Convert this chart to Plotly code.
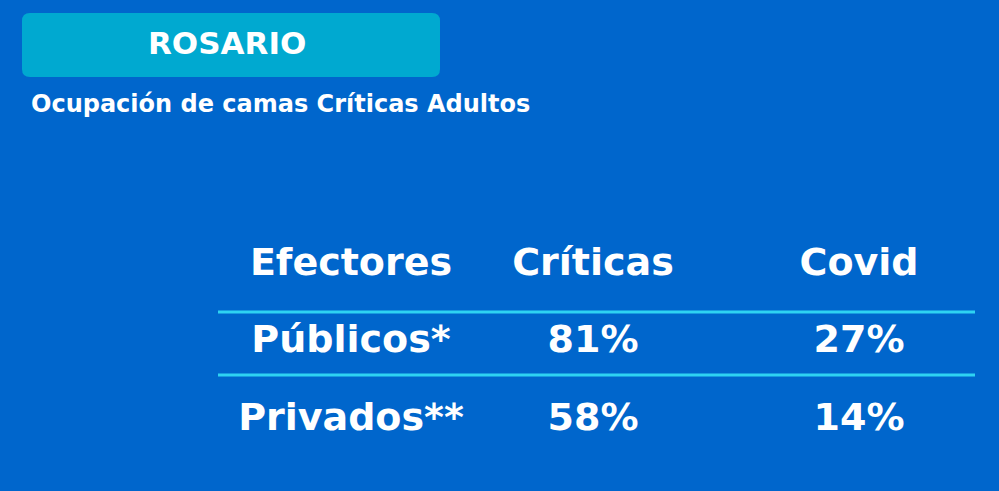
import plotly.graph_objects as go

# table data
columns = ["Efectores", "Críticas", "Covid"]
efectores = ["Públicos*", "Privados**"]
criticas = [81, 58]
covid = [27, 14]

title = "ROSARIO"
subtitle = "Ocupación de camas Críticas Adultos"

BG = "#0066CC"
BOX = "#00A9D0"
LINE = "#2ED3F2"
FONT = "DejaVu Sans"

# layout in pixel units of the 999x491 canvas
col_x = [351, 593, 859]
row_y = [265, 342, 420]
sep_y = [312, 375]

fig = go.Figure()

# header
fig.add_trace(go.Scatter(
    x=col_x, y=[row_y[0]] * len(columns), text=columns, mode="text",
    textfont=dict(family=FONT, size=38, color="white", weight="bold"),
    hoverinfo="skip", showlegend=False,
))

# body rows
for i, name in enumerate(efectores):
    cells = [name, f"{criticas[i]}%", f"{covid[i]}%"]
    fig.add_trace(go.Scatter(
        x=col_x, y=[row_y[i + 1]] * len(cells), text=cells, mode="text",
        textfont=dict(family=FONT, size=38, color="white", weight="bold"),
        hoverinfo="skip", showlegend=False,
    ))

# separators
for y in sep_y:
    fig.add_shape(type="line", x0=218, x1=975, y0=y, y1=y,
                  line=dict(color=LINE, width=3))

# rounded title box
x0, x1, y0, y1, r = 22, 440, 13, 77, 8
path = (f"M {x0 + r},{y0} L {x1 - r},{y0} Q {x1},{y0} {x1},{y0 + r} "
        f"L {x1},{y1 - r} Q {x1},{y1} {x1 - r},{y1} "
        f"L {x0 + r},{y1} Q {x0},{y1} {x0},{y1 - r} "
        f"L {x0},{y0 + r} Q {x0},{y0} {x0 + r},{y0} Z")
fig.add_shape(type="path", path=path, fillcolor=BOX, line=dict(width=0), layer="below")

fig.add_annotation(x=227, y=43, text=title, showarrow=False,
                   font=dict(family=FONT, size=31, color="white", weight="bold"))
fig.add_annotation(x=29, y=104, text=subtitle, showarrow=False, xanchor="left",
                   font=dict(family=FONT, size=24, color="white", weight="bold"))

fig.update_layout(
    width=999, height=491,
    margin=dict(l=0, r=0, t=0, b=0),
    paper_bgcolor=BG, plot_bgcolor=BG,
    xaxis=dict(range=[0, 999], visible=False, fixedrange=True),
    yaxis=dict(range=[491, 0], visible=False, fixedrange=True),
)

fig.write_html("out.html", config={"displayModeBar": False},
               post_script="document.body.style.margin='0';")
